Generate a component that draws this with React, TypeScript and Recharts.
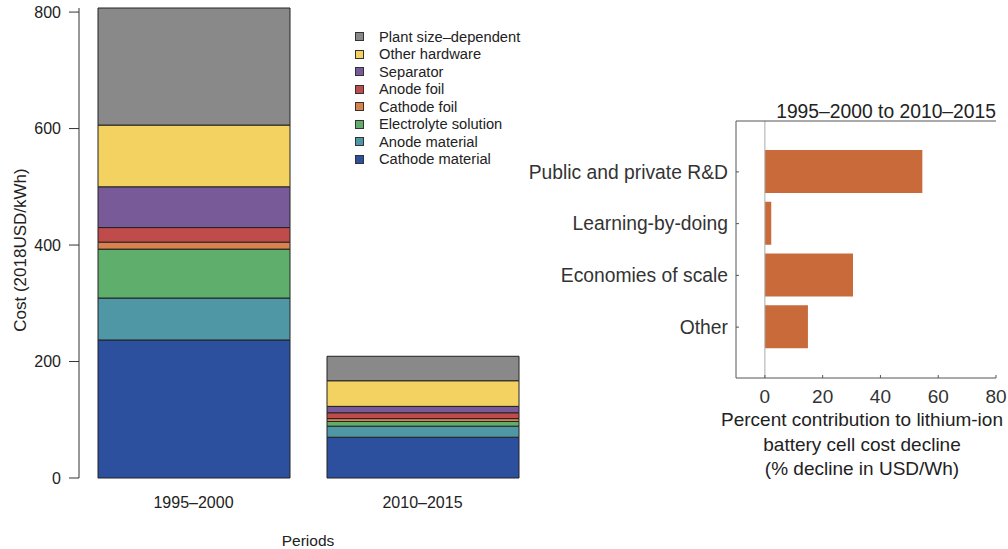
import React from 'react';
import { BarChart, Bar, XAxis, YAxis, Legend, ReferenceLine } from 'recharts';

// ---------- Left chart data (cost components, 2018 USD/kWh) ----------
const periods = ['1995–2000', '2010–2015'];
const cathodeMaterial = [237, 70];
const anodeMaterial = [72, 19];
const electrolyteSolution = [84, 8];
const cathodeFoil = [12, 5];
const anodeFoil = [25, 10];
const separator = [70, 11];
const otherHardware = [106, 44];
const plantSizeDependent = [201, 42];
const costTicks = [0, 200, 400, 600, 800];

// ---------- Right chart data (percent contribution) ----------
const drivers = ['Public and private R&D', 'Learning-by-doing', 'Economies of scale', 'Other'];
const contribution = [54.5, 2.2, 30.5, 14.9];
const percentTicks = [0, 20, 40, 60, 80];
const percentDomain = [-10, 80];

const FONT = '"Liberation Sans", Arial, Helvetica, sans-serif';

const componentSeries = [
  { key: 'cathodeMaterial', name: 'Cathode material', values: cathodeMaterial, color: '#2c509d' },
  { key: 'anodeMaterial', name: 'Anode material', values: anodeMaterial, color: '#4f97a5' },
  { key: 'electrolyteSolution', name: 'Electrolyte solution', values: electrolyteSolution, color: '#60ae6c' },
  { key: 'cathodeFoil', name: 'Cathode foil', values: cathodeFoil, color: '#d9824e' },
  { key: 'anodeFoil', name: 'Anode foil', values: anodeFoil, color: '#bf4b4b' },
  { key: 'separator', name: 'Separator', values: separator, color: '#785a98' },
  { key: 'otherHardware', name: 'Other hardware', values: otherHardware, color: '#f3d262' },
  { key: 'plantSizeDependent', name: 'Plant size–dependent', values: plantSizeDependent, color: '#898989' },
];

const costData = periods.map((p, i) => {
  const row: Record<string, any> = { period: p };
  componentSeries.forEach((s) => {
    row[s.key] = s.values[i];
  });
  return row;
});

const driverData = drivers.map((d, i) => ({ driver: d, value: contribution[i] }));

function CostLegend() {
  return (
    <div style={{ fontFamily: FONT }}>
      {[...componentSeries].reverse().map((s) => (
        <div
          key={s.key}
          style={{ display: 'flex', alignItems: 'center', height: 17.5, fontSize: 14.7, color: '#222', whiteSpace: 'nowrap' }}
        >
          <span
            style={{
              display: 'inline-block',
              width: 9,
              height: 9,
              background: s.color,
              border: '1px solid #333',
              boxSizing: 'border-box',
              marginRight: 15,
            }}
          />
          {s.name}
        </div>
      ))}
    </div>
  );
}

export default function App() {
  return (
    <div style={{ position: 'absolute', left: 0, top: 0, width: 1008, height: 549, background: '#fff' }}>
      <div style={{ position: 'absolute', left: 0, top: 0 }}>
        <BarChart
          width={560}
          height={549}
          data={costData}
          margin={{ top: 8, right: 23, bottom: 11, left: 0 }}
          barCategoryGap={0}
        >
          <XAxis
            dataKey="period"
            axisLine={false}
            tickLine={false}
            tickSize={0}
            tickMargin={19}
            height={60}
            tick={{ fontSize: 16, fill: '#222', fontFamily: FONT }}
            label={(props: any) => {
              const vb = props.viewBox || {};
              return (
                <text
                  x={vb.x + vb.width / 2}
                  y={vb.y + 67.5}
                  textAnchor="middle"
                  fontSize={15.5}
                  fill="#222"
                  fontFamily={FONT}
                >
                  Periods
                </text>
              );
            }}
          />
          <YAxis
            width={79}
            domain={[0, 'dataMax']}
            ticks={costTicks}
            tickSize={10}
            tickMargin={8}
            stroke="#333"
            tick={{ fontSize: 16, fill: '#222', fontFamily: FONT }}
            label={(props: any) => {
              const vb = props.viewBox || {};
              const cx = 20;
              const cy = vb.y + vb.height / 2 + 7;
              return (
                <text
                  x={cx}
                  y={cy}
                  transform={`rotate(-90, ${cx}, ${cy})`}
                  textAnchor="middle"
                  dominantBaseline="central"
                  fontSize={17}
                  fill="#222"
                  fontFamily={FONT}
                >
                  Cost (2018USD/kWh)
                </text>
              );
            }}
          />
          <Legend
            layout="vertical"
            align="center"
            verticalAlign="middle"
            wrapperStyle={{ top: 28, left: 355, width: 200 }}
            content={() => <CostLegend />}
          />
          {componentSeries.map((s) => (
            <Bar
              key={s.key}
              dataKey={s.key}
              name={s.name}
              stackId="cost"
              fill={s.color}
              stroke="#222"
              strokeWidth={1}
              barSize={192}
              isAnimationActive={false}
            />
          ))}
        </BarChart>
      </div>

      <div style={{ position: 'absolute', left: 520, top: 0 }}>
        <BarChart
          layout="vertical"
          width={488}
          height={549}
          data={driverData}
          margin={{ top: 96, right: 12, bottom: 0, left: 0 }}
        >
          <XAxis
            xAxisId="bottom"
            type="number"
            domain={percentDomain}
            ticks={percentTicks}
            height={171}
            tickSize={-3}
            tickMargin={15}
            stroke="#555"
            tick={{ fontSize: 19, fill: '#333', fontFamily: FONT }}
            label={(props: any) => {
              const vb = props.viewBox || {};
              const cx = vb.x + vb.width / 2 - 4;
              return (
                <text textAnchor="middle" fontSize={19} fill="#222" fontFamily={FONT}>
                  <tspan x={cx} y={vb.y + 48}>Percent contribution to lithium-ion</tspan>
                  <tspan x={cx} y={vb.y + 72.5}>battery cell cost decline</tspan>
                  <tspan x={cx} y={vb.y + 97}>(% decline in USD/Wh)</tspan>
                </text>
              );
            }}
          />
          <XAxis
            xAxisId="top"
            orientation="top"
            type="number"
            domain={percentDomain}
            ticks={percentTicks}
            height={25}
            tickSize={-3}
            tick={false}
            stroke="#555"
            label={(props: any) => {
              const vb = props.viewBox || {};
              return (
                <text
                  x={vb.x + vb.width}
                  y={vb.y + vb.height - 3}
                  textAnchor="end"
                  fontSize={19.3}
                  fill="#222"
                  fontFamily={FONT}
                >
                  1995–2000 to 2010–2015
                </text>
              );
            }}
          />
          <YAxis
            yAxisId="left"
            type="category"
            dataKey="driver"
            width={216}
            padding={{ top: 25, bottom: 25 }}
            tickSize={-3}
            tickMargin={11}
            stroke="#555"
            tick={{ fontSize: 19.3, fill: '#333', fontFamily: FONT }}
          />
          <YAxis
            yAxisId="right"
            orientation="right"
            type="category"
            dataKey="driver"
            width={0}
            padding={{ top: 25, bottom: 25 }}
            tickSize={-3}
            tick={false}
            stroke="#555"
          />
          <ReferenceLine x={0} xAxisId="bottom" yAxisId="left" stroke="#aaa" strokeWidth={1} />
          <Bar
            dataKey="value"
            xAxisId="bottom"
            yAxisId="left"
            fill="#c96a3a"
            barSize={43}
            isAnimationActive={false}
          />
        </BarChart>
      </div>
    </div>
  );
}
